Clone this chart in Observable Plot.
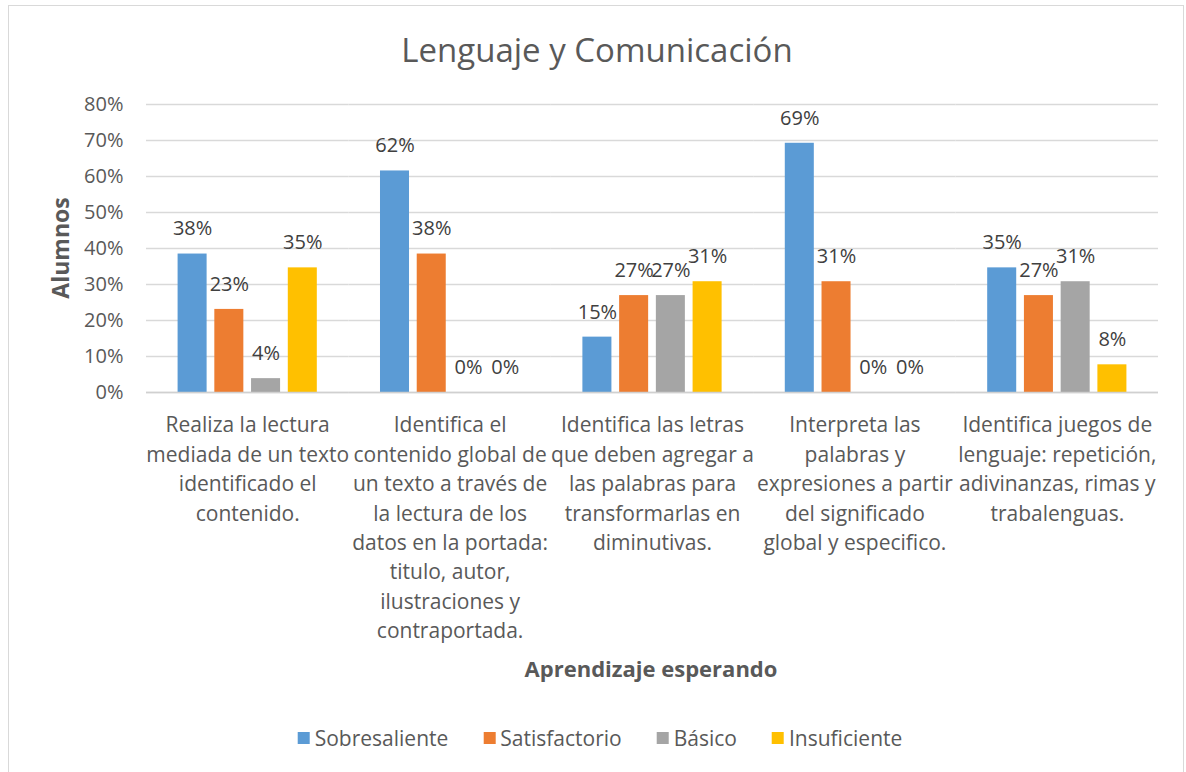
<!DOCTYPE html>
<html>
<head>
<meta charset="utf-8">
<script src="https://cdn.jsdelivr.net/npm/d3@7"></script>
<script src="https://cdn.jsdelivr.net/npm/@observablehq/plot@0.6"></script>
<style>
  html, body { margin: 0; padding: 0; background: #fff; width: 1186px; height: 772px; overflow: hidden; }
  body { font-family: "Open Sans", Lato, sans-serif; color: #595959; position: relative; }
  #frame { position: absolute; left: 8px; top: 5px; width: 1174px; height: 820px; border: 1.5px solid #d9d9d9; }
  #title { position: absolute; left: 0; top: 29px; width: 1194px; text-align: center; font-size: 33px; line-height: 42px; color: #595959; }
  #chart { position: absolute; left: 0; top: 80px; }
  #ylab { position: absolute; left: 60px; top: 248px; transform: translate(-50%, -50%) rotate(-90deg); font-size: 23px; font-weight: bold; color: #595959; white-space: nowrap; }
  #xlab { position: absolute; left: 651px; top: 668px; transform: translate(-50%, -50%); font-size: 22px; font-weight: bold; color: #595959; white-space: nowrap; }
  #legend { position: absolute; left: 600px; top: 738px; transform: translate(-50%, -50%); display: flex; gap: 35px; font-size: 21px; color: #595959; white-space: nowrap; }
  #legend .item { display: flex; align-items: center; gap: 5px; }
  #legend .sw { width: 12px; height: 12px; display: inline-block; }
</style>
</head>
<body>
<div id="frame"></div>
<div id="title">Lenguaje y Comunicación</div>
<div id="chart"></div>
<div id="ylab">Alumnos</div>
<div id="xlab">Aprendizaje esperando</div>
<div id="legend"></div>
<script>
const categories = [
  "Realiza la lectura\nmediada de un texto\nidentificado el\ncontenido.",
  "Identifica el\ncontenido global de\nun texto a través de\nla lectura de los\ndatos en la portada:\ntitulo, autor,\nilustraciones y\ncontraportada.",
  "Identifica las letras\nque deben agregar a\nlas palabras para\ntransformarlas en\ndiminutivas.",
  "Interpreta las\npalabras y\nexpresiones a partir\ndel significado\nglobal y especifico.",
  "Identifica juegos de\nlenguaje: repetición,\nadivinanzas, rimas y\ntrabalenguas."
];
const series = ["Sobresaliente", "Satisfactorio", "Básico", "Insuficiente"];
const colors = ["#5b9bd5", "#ed7d31", "#a5a5a5", "#ffc000"];
const sobresaliente = [38.46, 61.54, 15.38, 69.23, 34.62];
const satisfactorio = [23.08, 38.46, 26.92, 30.77, 26.92];
const basico = [3.85, 0, 26.92, 0, 30.77];
const insuficiente = [34.62, 0, 30.77, 0, 7.69];
const yTicks = [0, 10, 20, 30, 40, 50, 60, 70, 80];

const valuesBySeries = [sobresaliente, satisfactorio, basico, insuficiente];
const data = [];
categories.forEach((c, i) => {
  series.forEach((s, j) => {
    data.push({category: c, series: s, value: valuesBySeries[j][i]});
  });
});

const plot = Plot.plot({
  width: 1186,
  height: 580,
  marginTop: 24,
  marginLeft: 146,
  marginRight: 28,
  marginBottom: 268,
  style: {fontFamily: "'Open Sans', Lato, sans-serif", background: "transparent"},
  fx: {domain: categories, paddingInner: 0, paddingOuter: 0, round: false, label: null},
  x: {domain: series, paddingInner: 0.21, paddingOuter: 0.86, round: false, axis: null},
  y: {domain: [0, 80], label: null},
  color: {domain: series, range: colors},
  marks: [
    Plot.gridY(yTicks, {stroke: "#d9d9d9", strokeOpacity: 1, strokeWidth: 1.3}),
    Plot.axisY(yTicks, {tickSize: 0, tickPadding: 23, fontSize: 20, fill: "#595959", tickFormat: d => d + "%", label: null}),
    Plot.axisFx({anchor: "bottom", tickSize: 0, tickPadding: 19, fontSize: 21, lineHeight: 1.4, fill: "#595959", label: null}),
    Plot.barY(data, {fx: "category", x: "series", y: "value", fill: "series"}),
    Plot.ruleY([0], {stroke: "#d0d0d0", strokeWidth: 1.3}),
    Plot.text(data, {fx: "category", x: "series", y: "value", text: d => Math.round(d.value) + "%", dy: -25, fontSize: 20, fill: "#404040"})
  ]
});
document.getElementById("chart").appendChild(plot);

const legend = document.getElementById("legend");
series.forEach((s, j) => {
  const item = document.createElement("span");
  item.className = "item";
  const sw = document.createElement("span");
  sw.className = "sw";
  sw.style.background = colors[j];
  item.appendChild(sw);
  item.appendChild(document.createTextNode(s));
  legend.appendChild(item);
});
</script>
</body>
</html>
